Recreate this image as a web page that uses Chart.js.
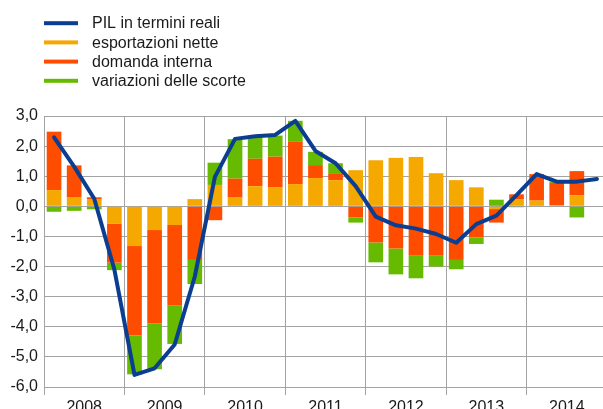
<!DOCTYPE html>
<html>
<head>
<meta charset="utf-8">
<script src="https://cdn.jsdelivr.net/npm/chart.js@4/dist/chart.umd.min.js"></script>
<style>
html,body{margin:0;padding:0;overflow:hidden;background:#fff;width:603px;height:409px;}
canvas{display:block;}
</style>
</head>
<body>
<canvas id="c" width="607" height="409"></canvas>
<script>
const quarters = ['2008T1','2008T2','2008T3','2008T4','2009T1','2009T2','2009T3','2009T4',
  '2010T1','2010T2','2010T3','2010T4','2011T1','2011T2','2011T3','2011T4',
  '2012T1','2012T2','2012T3','2012T4','2013T1','2013T2','2013T3','2013T4',
  '2014T1','2014T2','2014T3','2014T4'];
const years = ['2008','2009','2010','2011','2012','2013','2014'];
const yTicks = [3,2,1,0,-1,-2,-3,-4,-5,-6];

const pil = [2.29,1.32,0.25,-2.1,-5.6,-5.38,-4.59,-2.33,
  0.98,2.24,2.33,2.37,2.84,1.84,1.43,0.67,
  -0.34,-0.63,-0.74,-0.92,-1.21,-0.59,-0.31,0.37,
  1.07,0.82,0.82,0.91];
const esportazioni = [0.54,0.29,0.24,-0.57,-1.32,-0.79,-0.62,0.24,
  0.71,0.29,0.67,0.64,0.74,0.94,0.87,1.2,
  1.53,1.61,1.64,1.1,0.87,0.63,-0.09,0.24,
  0.19,0.03,0.37,null];
const domanda = [1.94,1.07,0.06,-1.3,-2.97,-3.1,-2.67,-1.78,
  -0.46,0.63,0.91,1.01,1.42,0.43,0.23,-0.37,
  -1.2,-1.4,-1.62,-1.62,-1.78,-1.03,-0.45,0.16,
  0.88,0.75,0.8,null];
const scorte = [-0.18,-0.15,-0.1,-0.25,-1.29,-1.52,-1.28,-0.8,
  0.74,1.31,0.73,0.7,0.68,0.44,0.33,-0.17,
  -0.66,-0.86,-0.77,-0.38,-0.31,-0.22,0.22,-0.03,
  0,0.05,-0.37,null];

const FONT = "'Liberation Sans', Arial, sans-serif";
const TEXT = '#1a1a1a';
const GRID = '#a3a3a3';

const legendPlugin = {
  id: 'vlegend',
  afterDraw(chart) {
    const ctx = chart.ctx;
    ctx.save();
    ctx.font = '16px ' + FONT;
    ctx.textBaseline = 'middle';
    ctx.textAlign = 'left';
    const rows = [23.2, 42.4, 61.6, 80.8];
    chart.data.datasets.forEach((ds, i) => {
      const y = rows[i];
      ctx.fillStyle = ds.legendColor;
      ctx.fillRect(44, y - 2, 34, 4);
      ctx.fillStyle = TEXT;
      ctx.fillText(ds.label, 92, y + 0.8);
    });
    ctx.restore();
  }
};

new Chart(document.getElementById('c'), {
  data: {
    labels: quarters,
    datasets: [
      { type: 'line', label: 'PIL in termini reali', data: pil, stack: 'gdp',
        borderColor: '#0b3d91', legendColor: '#0b3d91', borderWidth: 4, pointRadius: 0,
        tension: 0, borderJoinStyle: 'round', borderCapStyle: 'round', order: 0, fill: false },
      { type: 'bar', label: 'esportazioni nette', data: esportazioni, stack: 'c',
        backgroundColor: '#f5a800', legendColor: '#f5a800', order: 1 },
      { type: 'bar', label: 'domanda interna', data: domanda, stack: 'c',
        backgroundColor: '#ff4d00', legendColor: '#ff4d00', order: 1 },
      { type: 'bar', label: 'variazioni delle scorte', data: scorte, stack: 'c',
        backgroundColor: '#66bb00', legendColor: '#66bb00', order: 1 }
    ]
  },
  options: {
    responsive: false,
    animation: false,
    devicePixelRatio: 1,
    layout: { padding: { top: 116, left: 0, right: 0, bottom: 0 } },
    datasets: { bar: { barPercentage: 0.73, categoryPercentage: 1 } },
    plugins: { legend: { display: false }, tooltip: { enabled: false } },
    scales: {
      x: { type: 'category', display: false, stacked: true, offset: true },
      x2: {
        type: 'category', labels: years, position: 'bottom', offset: true,
        grid: { offset: true, color: GRID, lineWidth: 1, tickLength: 8, drawTicks: true },
        border: { color: GRID },
        ticks: { font: { size: 16, family: FONT }, color: TEXT, padding: 3, maxRotation: 0, autoSkip: false },
        afterFit(s) { s.height = 22; }
      },
      y: {
        stacked: true, min: -6, max: 3,
        afterBuildTicks(s) { s.ticks = yTicks.map(v => ({ value: v })); },
        ticks: { font: { size: 16, family: FONT }, color: TEXT, padding: 6,
          callback: v => v.toFixed(1).replace('.', ',') },
        grid: { color: GRID, lineWidth: 1, drawTicks: false },
        border: { color: GRID },
        afterFit(s) { s.width = 44; }
      }
    }
  },
  plugins: [legendPlugin]
});
</script>
</body>
</html>
